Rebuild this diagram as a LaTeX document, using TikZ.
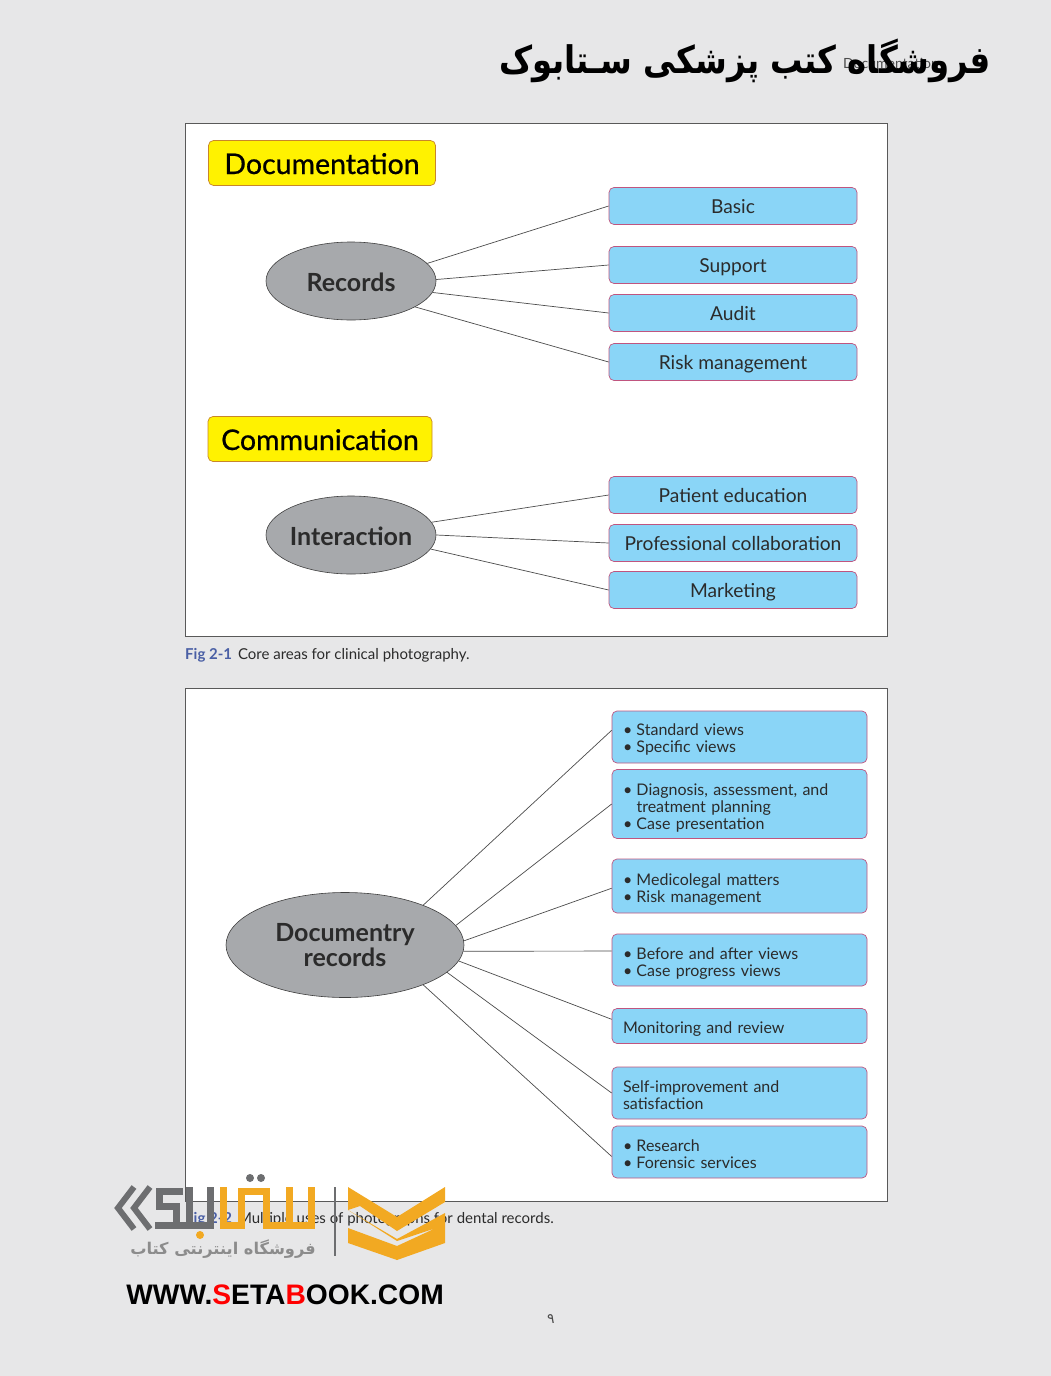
\documentclass[tikz,border=0pt]{standalone}
\usepackage{fontspec}
\setmainfont{Lato}
\newfontfamily\headfont[FakeBold=0.7]{Lato}
\newfontfamily\arabicfont[Script=Arabic]{DejaVu Sans}
\newfontfamily\urlfont{Liberation Sans}
\TeXXeTstate=1
\usetikzlibrary{shapes.geometric}
\definecolor{pagegray}{HTML}{E7E7E8}
\definecolor{boxblue}{HTML}{8AD5F7}
\definecolor{boxedge}{HTML}{C0557F}
\definecolor{headyellow}{HTML}{FFF200}
\definecolor{headedge}{HTML}{C8862A}
\definecolor{ovalgray}{HTML}{A7A9AC}
\definecolor{figblue}{HTML}{4A5FA5}
\definecolor{logoorange}{HTML}{F2A922}
\definecolor{logogray}{HTML}{6D6E70}
\definecolor{inkgray}{HTML}{2B2B2B}
\newcommand{\bl}{\makebox[13.5pt][l]{\textbullet}}
\tikzset{
  panel/.style={draw=black!65,fill=white,line width=0.7pt},
  headbox/.style={draw=headedge,fill=headyellow,rounded corners=5pt,line width=0.7pt,minimum height=45pt,font=\headfont\fontsize{28.5}{30}\selectfont,text=black,text height=22pt,text depth=0pt},
  oval/.style={ellipse,draw=black!75,fill=ovalgray,inner sep=0pt,line width=0.6pt,font=\fontsize{25}{25}\selectfont\bfseries,text=inkgray,align=center},
  lowtext/.style={text height=20pt,text depth=0pt,inner xsep=-3pt},
  itembox/.style={draw=boxedge,fill=boxblue,rounded corners=5pt,line width=0.7pt,minimum width=248pt,minimum height=37pt,font=\fontsize{19.2}{21}\selectfont,text=inkgray,text height=14.5pt,text depth=0pt},
  listbox/.style={draw=boxedge,fill=boxblue,rounded corners=5pt,line width=0.7pt,minimum width=255pt,font=\fontsize{16}{17}\selectfont,text=inkgray,align=left,text width=233pt,inner sep=0pt},
  spoke/.style={draw=black!70,line width=0.7pt},
  caption/.style={anchor=west,font=\fontsize{15}{16}\selectfont,text=inkgray,inner sep=0pt},
  logostroke/.style={line width=7pt,line join=miter}
}
\begin{document}
\begin{tikzpicture}[x=1pt,y=-1pt]
\useasboundingbox[fill=pagegray] (0,0) rectangle (1051,1376);
% top panel
\node[panel,minimum width=702pt,minimum height=513pt,inner sep=0pt] (toppanel) at (536,380) {};
\node[headbox,minimum width=227pt] (documentation) at (322,163) {Documentation};
\node[headbox,minimum width=224pt] (communication) at (320,439) {Communication};
\node[oval,lowtext,minimum width=170pt,minimum height=78pt] (records) at (351,281) {Records};
\node[oval,lowtext,minimum width=170pt,minimum height=78pt] (interaction) at (351,535) {Interaction};
\node[itembox] (basic) at (733,206) {Basic};
\node[itembox] (support) at (733,265) {Support};
\node[itembox] (audit) at (733,313) {Audit};
\node[itembox] (risk) at (733,362) {Risk management};
\node[itembox] (patient) at (733,495) {Patient education};
\node[itembox] (collab) at (733,543) {Professional collaboration};
\node[itembox] (marketing) at (733,590) {Marketing};
\draw[spoke] (records.13) -- (basic.west);
\draw[spoke] (records.1) -- (support.west);
\draw[spoke] (records.-8) -- (audit.west);
\draw[spoke] (records.-22) -- (risk.west);
\draw[spoke] (interaction.9) -- (patient.west);
\draw[spoke] (interaction.0) -- (collab.west);
\draw[spoke] (interaction.-10) -- (marketing.west);
\node[caption] (cap1) at (185,655) {{\color{figblue}\bfseries Fig 2-1}\hspace{6pt}Core areas for clinical photography.};
% bottom panel
\node[panel,minimum width=702pt,minimum height=513pt,inner sep=0pt] (lowpanel) at (536,945) {};
\node[oval,minimum width=238pt,minimum height=105pt] (documentry) at (345,945) {Documentry\\records};
\node[listbox,text height=16pt,minimum height=52pt] (views) at (739.5,737) {\bl Standard views\\\bl Specific views};
\node[listbox,text height=20pt,minimum height=69pt] (diagnosis) at (739.5,804) {\bl Diagnosis, assessment, and\\\hspace*{13.5pt}treatment planning\\\bl Case presentation};
\node[listbox,text height=18pt,minimum height=54pt] (legal) at (739.5,886) {\bl Medicolegal matters\\\bl Risk management};
\node[listbox,text height=18pt,minimum height=52pt] (before) at (739.5,960) {\bl Before and after views\\\bl Case progress views};
\node[listbox,text height=18pt,minimum height=35pt] (monitor) at (739.5,1026) {Monitoring and review};
\node[listbox,text height=16pt,minimum height=52pt] (improve) at (739.5,1093) {Self-improvement and\\satisfaction};
\node[listbox,text height=16pt,minimum height=52pt] (research) at (739.5,1152) {\bl Research\\\bl Forensic services};
\draw[spoke] (documentry.27.5) -- (views.177.3);
\draw[spoke] (documentry.10) -- (diagnosis.west);
\draw[spoke] (documentry.2.4) -- (legal.181.3);
\draw[spoke] (documentry.-3) -- (before.176);
\draw[spoke] (documentry.-8) -- (monitor.177.75);
\draw[spoke] (documentry.-15.5) -- (improve.west);
\draw[spoke] (documentry.-27) -- (research.182.25);
\node[caption] (cap2) at (185,1219) {{\color{figblue}\bfseries Fig 2-2}\hspace{6pt}Multiple uses of photographs for dental records.};
% header and page number
\node[inner sep=0pt,font=\fontsize{14}{16}\selectfont,text=black!70] (runhead) at (891,63) {Documentation};
\node[inner sep=0pt,xscale=0.85,transform shape,font=\arabicfont\fontsize{38}{44}\selectfont\bfseries] (shoptitle) at (745,61) {\beginR فروشگاه کتب پزشکی سـتابوک\endR};
\node[inner sep=0pt,font=\arabicfont\fontsize{14}{16}\selectfont,text=black!70] (pagenum) at (551,1319) {\beginR ۹\endR};
% logo
\foreach \dx in {0,16} {
  \draw[logogray,line width=6pt,line join=miter,xshift=\dx pt] (134,1187) -- (118,1208) -- (134,1229);
}
\draw[logostroke,logogray] (183,1191) -- (159.5,1191) -- (159.5,1206) -- (176,1206) -- (176,1225) -- (155,1225);
\draw[logostroke,logogray] (189.5,1187) -- (189.5,1225) -- (210.5,1225) -- (210.5,1187);
\draw[logostroke,logogray] (172,1225) -- (192,1225);
\draw[logostroke,logoorange] (223.5,1187) -- (223.5,1225) -- (241.5,1225) -- (241.5,1191) -- (266.5,1191) -- (266.5,1225) -- (311.5,1225) -- (311.5,1187);
\draw[logostroke,logoorange] (289.5,1187) -- (289.5,1225);
\fill[logogray] (250,1178) circle (4pt) (261,1178) circle (4pt);
\fill[logoorange] (200,1235) circle (4pt);
\draw[logogray,line width=1.2pt] (335,1187) -- (335,1256);
\fill[logoorange] (348,1187) -- (397,1217) -- (445,1187) -- (445,1202) -- (397,1231) -- (360,1206) -- (348,1210) -- cycle;
\fill[logoorange] (348,1210) -- (397,1239) -- (423,1225) -- (445,1213) -- (445,1243) -- (397,1260) -- (348,1243) -- (348,1228) -- (397,1246) -- (436,1228) -- (397,1241) -- cycle;
\node[inner sep=0pt,font=\arabicfont\fontsize{16.2}{20}\selectfont\bfseries,text=black!45] (shopline) at (223,1249) {\beginR فروشگاه اینترنتی کتاب\endR};
\node[inner sep=0pt,font=\urlfont\fontsize{28.2}{32}\selectfont\bfseries,text=black] (shopurl) at (285,1295) {WWW.{\color{red}S}ETA{\color{red}B}OOK.COM};
\end{tikzpicture}
\end{document}
